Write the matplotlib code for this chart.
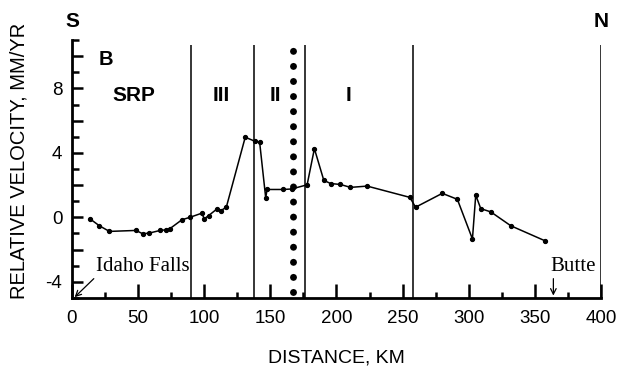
import matplotlib
matplotlib.use("Agg")
import matplotlib.pyplot as plt
import numpy as np

# ---- data ----
distance_km = [13.6, 20.7, 28.3, 48.5, 53.5, 58.6, 66.7, 71.2, 74.2, 83.1, 89.4,
               98.2, 100.0, 103.3, 109.6, 112.6, 116.7, 131.0, 138.1, 141.9,
               146.5, 147.5, 159.6, 166.0, 177.8, 183.3, 190.4, 195.5, 203.0,
               210.6, 223.2, 255.5, 259.8, 280.0, 291.4, 302.8, 305.3, 309.1,
               316.7, 331.8, 357.6]
velocity = [-0.09, -0.52, -0.87, -0.81, -1.02, -0.97, -0.81, -0.77, -0.69, -0.15, 0.01,
            0.26, -0.09, 0.11, 0.52, 0.42, 0.63, 4.97, 4.73, 4.66,
            1.2, 1.73, 1.73, 1.76, 2.02, 4.26, 2.3, 2.1, 2.04,
            1.86, 1.94, 1.24, 0.63, 1.49, 1.12, -1.34, 1.38, 0.54,
            0.34, -0.52, -1.45]

zone_boundaries_km = [90, 138, 176, 258, 400]
dotted_boundary_km = 167
zone_labels = ["SRP", "III", "II", "I"]
zone_label_x = [47, 113, 154, 209]
x_ticks = [0, 50, 100, 150, 200, 250, 300, 350, 400]
y_ticks = [-4, -2, 0, 2, 4, 6, 8, 10]
y_tick_labels = ["-4", "", "0", "", "4", "", "8", ""]

fig = plt.figure(figsize=(6.27, 3.66), dpi=100)
ax = fig.add_axes([0.1148, 0.1858, 0.8437, 0.7049])
ax.set_xlim(0, 400)
ax.set_ylim(-5, 11)

sans = "Liberation Sans"
serif = "Liberation Serif"

# boundary lines
ax.vlines(zone_boundaries_km, -5, 10.7, color="black", lw=1.1)
ax.vlines([dotted_boundary_km], -4.6, 10.45, color="black", lw=5,
          linestyles=[(0, (0.01, 2.16))], capstyle="round")

ax.plot(distance_km, velocity, color="black", lw=1.1, marker="o", ms=2.8)

# spines
for s in ["top", "right"]:
    ax.spines[s].set_visible(False)
ax.spines["left"].set_linewidth(2)
ax.spines["bottom"].set_linewidth(2)

ax.set_xticks(x_ticks)
ax.set_xticklabels([str(t) for t in x_ticks], fontfamily=sans, fontsize=13.5)
ax.set_xticks(np.arange(25, 400, 50), minor=True)
ax.set_yticks(y_ticks)
ax.set_yticklabels(y_tick_labels, fontfamily=sans, fontsize=13.5)
ax.set_yticks(np.arange(-5, 12, 2), minor=True)
ax.tick_params(axis="x", which="major", direction="in", length=10, width=1.8, pad=9)
ax.tick_params(axis="x", which="minor", direction="in", length=4, width=1.8)
ax.tick_params(axis="y", which="major", direction="in", length=8, width=1.8, pad=7)
ax.tick_params(axis="y", which="minor", direction="in", length=5, width=1.8)

ax.set_xlabel("DISTANCE, KM", fontfamily=sans, fontsize=14, labelpad=16)
ax.set_ylabel("RELATIVE VELOCITY, MM/YR", fontfamily=sans, fontsize=14.5)
ax.yaxis.set_label_coords(-0.082, 0.53)

# annotations
ax.text(0, 12.15, "S", ha="center", va="center", fontfamily=sans, fontsize=15, fontweight="bold")
ax.text(400, 12.15, "N", ha="center", va="center", fontfamily=sans, fontsize=15, fontweight="bold")
ax.text(25.7, 9.8, "B", ha="center", va="center", fontfamily=sans, fontsize=14.5, fontweight="bold")
for lab, xx in zip(zone_labels, zone_label_x):
    ax.text(xx, 7.56, lab, ha="center", va="center", fontfamily=sans, fontsize=15, fontweight="bold")

ax.text(18.5, -3.05, "Idaho Falls", ha="left", va="center", fontfamily=serif, fontsize=15)
ax.annotate("", xy=(2.0, -4.95), xytext=(16.5, -3.8),
            arrowprops=dict(arrowstyle="->", color="black", lw=0.9, shrinkA=0, shrinkB=0))
ax.text(362, -3.05, "Butte", ha="left", va="center", fontfamily=serif, fontsize=15)
ax.annotate("", xy=(364, -4.85), xytext=(364, -3.8),
            arrowprops=dict(arrowstyle="->", color="black", lw=0.9, shrinkA=0, shrinkB=0))

fig.savefig("out.png", dpi=100)
